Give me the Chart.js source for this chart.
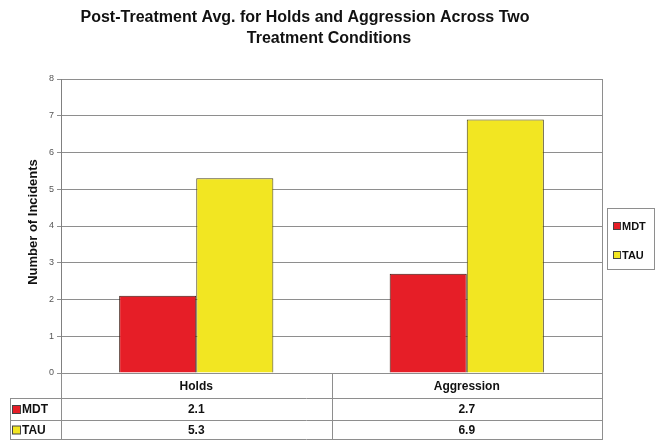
<!DOCTYPE html>
<html>
<head>
<meta charset="utf-8">
<script src="https://cdn.jsdelivr.net/npm/chart.js@4/dist/chart.umd.min.js"></script>
<style>
  html, body { margin: 0; padding: 0; background: #ffffff; }
  #wrap { width: 656px; height: 440px; }
</style>
</head>
<body>
<div id="wrap"><canvas id="c" width="656" height="440"></canvas></div>
<script>
// Post-treatment averages per condition
const categories = ['Holds', 'Aggression'];
const seriesNames = ['MDT', 'TAU'];
const mdtValues = [2.1, 2.7];
const tauValues = [5.3, 6.9];
const titleLines = ['Post-Treatment Avg. for Holds and Aggression Across Two', 'Treatment Conditions'];
const yAxisTitle = 'Number of Incidents';

const FONT = '"Liberation Sans", Arial, sans-serif';
const seriesColors = ['#E61E27', '#F2E622'];
const gridColor = '#8e8e8e';

// Title, axis title, legend box and the data table under the plot
const decorations = {
  id: 'decorations',
  afterDraw(chart) {
    const ctx = chart.ctx;
    const area = chart.chartArea;
    const xs = chart.scales.x;
    ctx.save();

    // title
    ctx.fillStyle = '#111';
    ctx.font = 'bold 16px ' + FONT;
    ctx.textAlign = 'center';
    ctx.textBaseline = 'middle';
    ctx.fillText(titleLines[0], 305, 18);
    ctx.fillText(titleLines[1], 329, 39);

    // y-axis title
    ctx.save();
    ctx.translate(33, (area.top + area.bottom) / 2 - 4);
    ctx.rotate(-Math.PI / 2);
    ctx.font = 'bold 13px ' + FONT;
    ctx.fillText(yAxisTitle, 0, 0);
    ctx.restore();

    // right edge of plot
    ctx.strokeStyle = gridColor;
    ctx.lineWidth = 1;
    ctx.beginPath();
    ctx.moveTo(area.right + 0.5, area.top);
    ctx.lineTo(area.right + 0.5, area.bottom);
    ctx.stroke();

    // data table
    const rowY = [area.bottom, 398, 420, 439];
    const tableLeft = 10;
    const bounds = [area.left];
    for (let i = 0; i < categories.length - 1; i++) {
      bounds.push((xs.getPixelForValue(i) + xs.getPixelForValue(i + 1)) / 2);
    }
    bounds.push(area.right);

    ctx.strokeStyle = gridColor;
    ctx.beginPath();
    bounds.forEach(b => {
      const x = Math.round(b) + 0.5;
      ctx.moveTo(x, rowY[0]);
      ctx.lineTo(x, 440);
    });
    ctx.moveTo(tableLeft + 0.5, rowY[1]);
    ctx.lineTo(tableLeft + 0.5, 440);
    for (let r = 1; r < rowY.length; r++) {
      ctx.moveTo(tableLeft, rowY[r] + 0.5);
      ctx.lineTo(area.right + 1, rowY[r] + 0.5);
    }
    ctx.stroke();

    ctx.fillStyle = '#111';
    ctx.font = 'bold 12px ' + FONT;
    ctx.textAlign = 'center';
    ctx.textBaseline = 'middle';
    categories.forEach((c, i) => {
      ctx.fillText(c, xs.getPixelForValue(i), (rowY[0] + rowY[1]) / 2 + 1);
    });
    const rows = [mdtValues, tauValues];
    rows.forEach((vals, r) => {
      const cy = (rowY[r + 1] + rowY[r + 2]) / 2 + 1;
      vals.forEach((v, i) => {
        ctx.fillStyle = '#111';
        ctx.textAlign = 'center';
        ctx.fillText(v.toFixed(1), xs.getPixelForValue(i), cy);
      });
      ctx.fillStyle = seriesColors[r];
      ctx.fillRect(12.5, cy - 4.5, 8, 8);
      ctx.strokeStyle = '#444';
      ctx.strokeRect(12.5, cy - 4.5, 8, 8);
      ctx.fillStyle = '#111';
      ctx.textAlign = 'left';
      ctx.fillText(seriesNames[r], 22, cy);
    });

    // legend box
    ctx.strokeStyle = gridColor;
    ctx.strokeRect(607.5, 208.5, 47, 61);
    ctx.font = 'bold 11px ' + FONT;
    [226, 255].forEach((ly, r) => {
      ctx.fillStyle = seriesColors[r];
      ctx.fillRect(613.5, ly - 3.5, 7, 7);
      ctx.strokeStyle = '#444';
      ctx.strokeRect(613.5, ly - 3.5, 7, 7);
      ctx.fillStyle = '#111';
      ctx.textAlign = 'left';
      ctx.fillText(seriesNames[r], 622, ly + 1);
    });

    ctx.restore();
  }
};

new Chart(document.getElementById('c'), {
  type: 'bar',
  data: {
    labels: categories,
    datasets: [
      { label: seriesNames[0], data: mdtValues, backgroundColor: seriesColors[0], borderColor: '#3a1a12', borderWidth: 1 },
      { label: seriesNames[1], data: tauValues, backgroundColor: seriesColors[1], borderColor: '#4a4218', borderWidth: 1 }
    ]
  },
  options: {
    responsive: false,
    animation: false,
    devicePixelRatio: 1,
    layout: { padding: { top: 79, right: 54, left: 0, bottom: 0 } },
    datasets: { bar: { categoryPercentage: 0.57, barPercentage: 1.0 } },
    plugins: {
      legend: { display: false },
      title: { display: false },
      tooltip: { enabled: false }
    },
    scales: {
      x: {
        grid: { display: false },
        border: { display: false },
        ticks: { display: false },
        afterFit(scale) { scale.height = 67; }
      },
      y: {
        min: 0,
        max: 8,
        ticks: { stepSize: 1, color: '#555', font: { size: 9, family: FONT }, padding: 3 },
        grid: { color: gridColor, lineWidth: 1, tickLength: 4 },
        border: { color: '#808080', width: 1 },
        afterFit(scale) { scale.width = 61; }
      }
    }
  },
  plugins: [decorations]
});
</script>
</body>
</html>
